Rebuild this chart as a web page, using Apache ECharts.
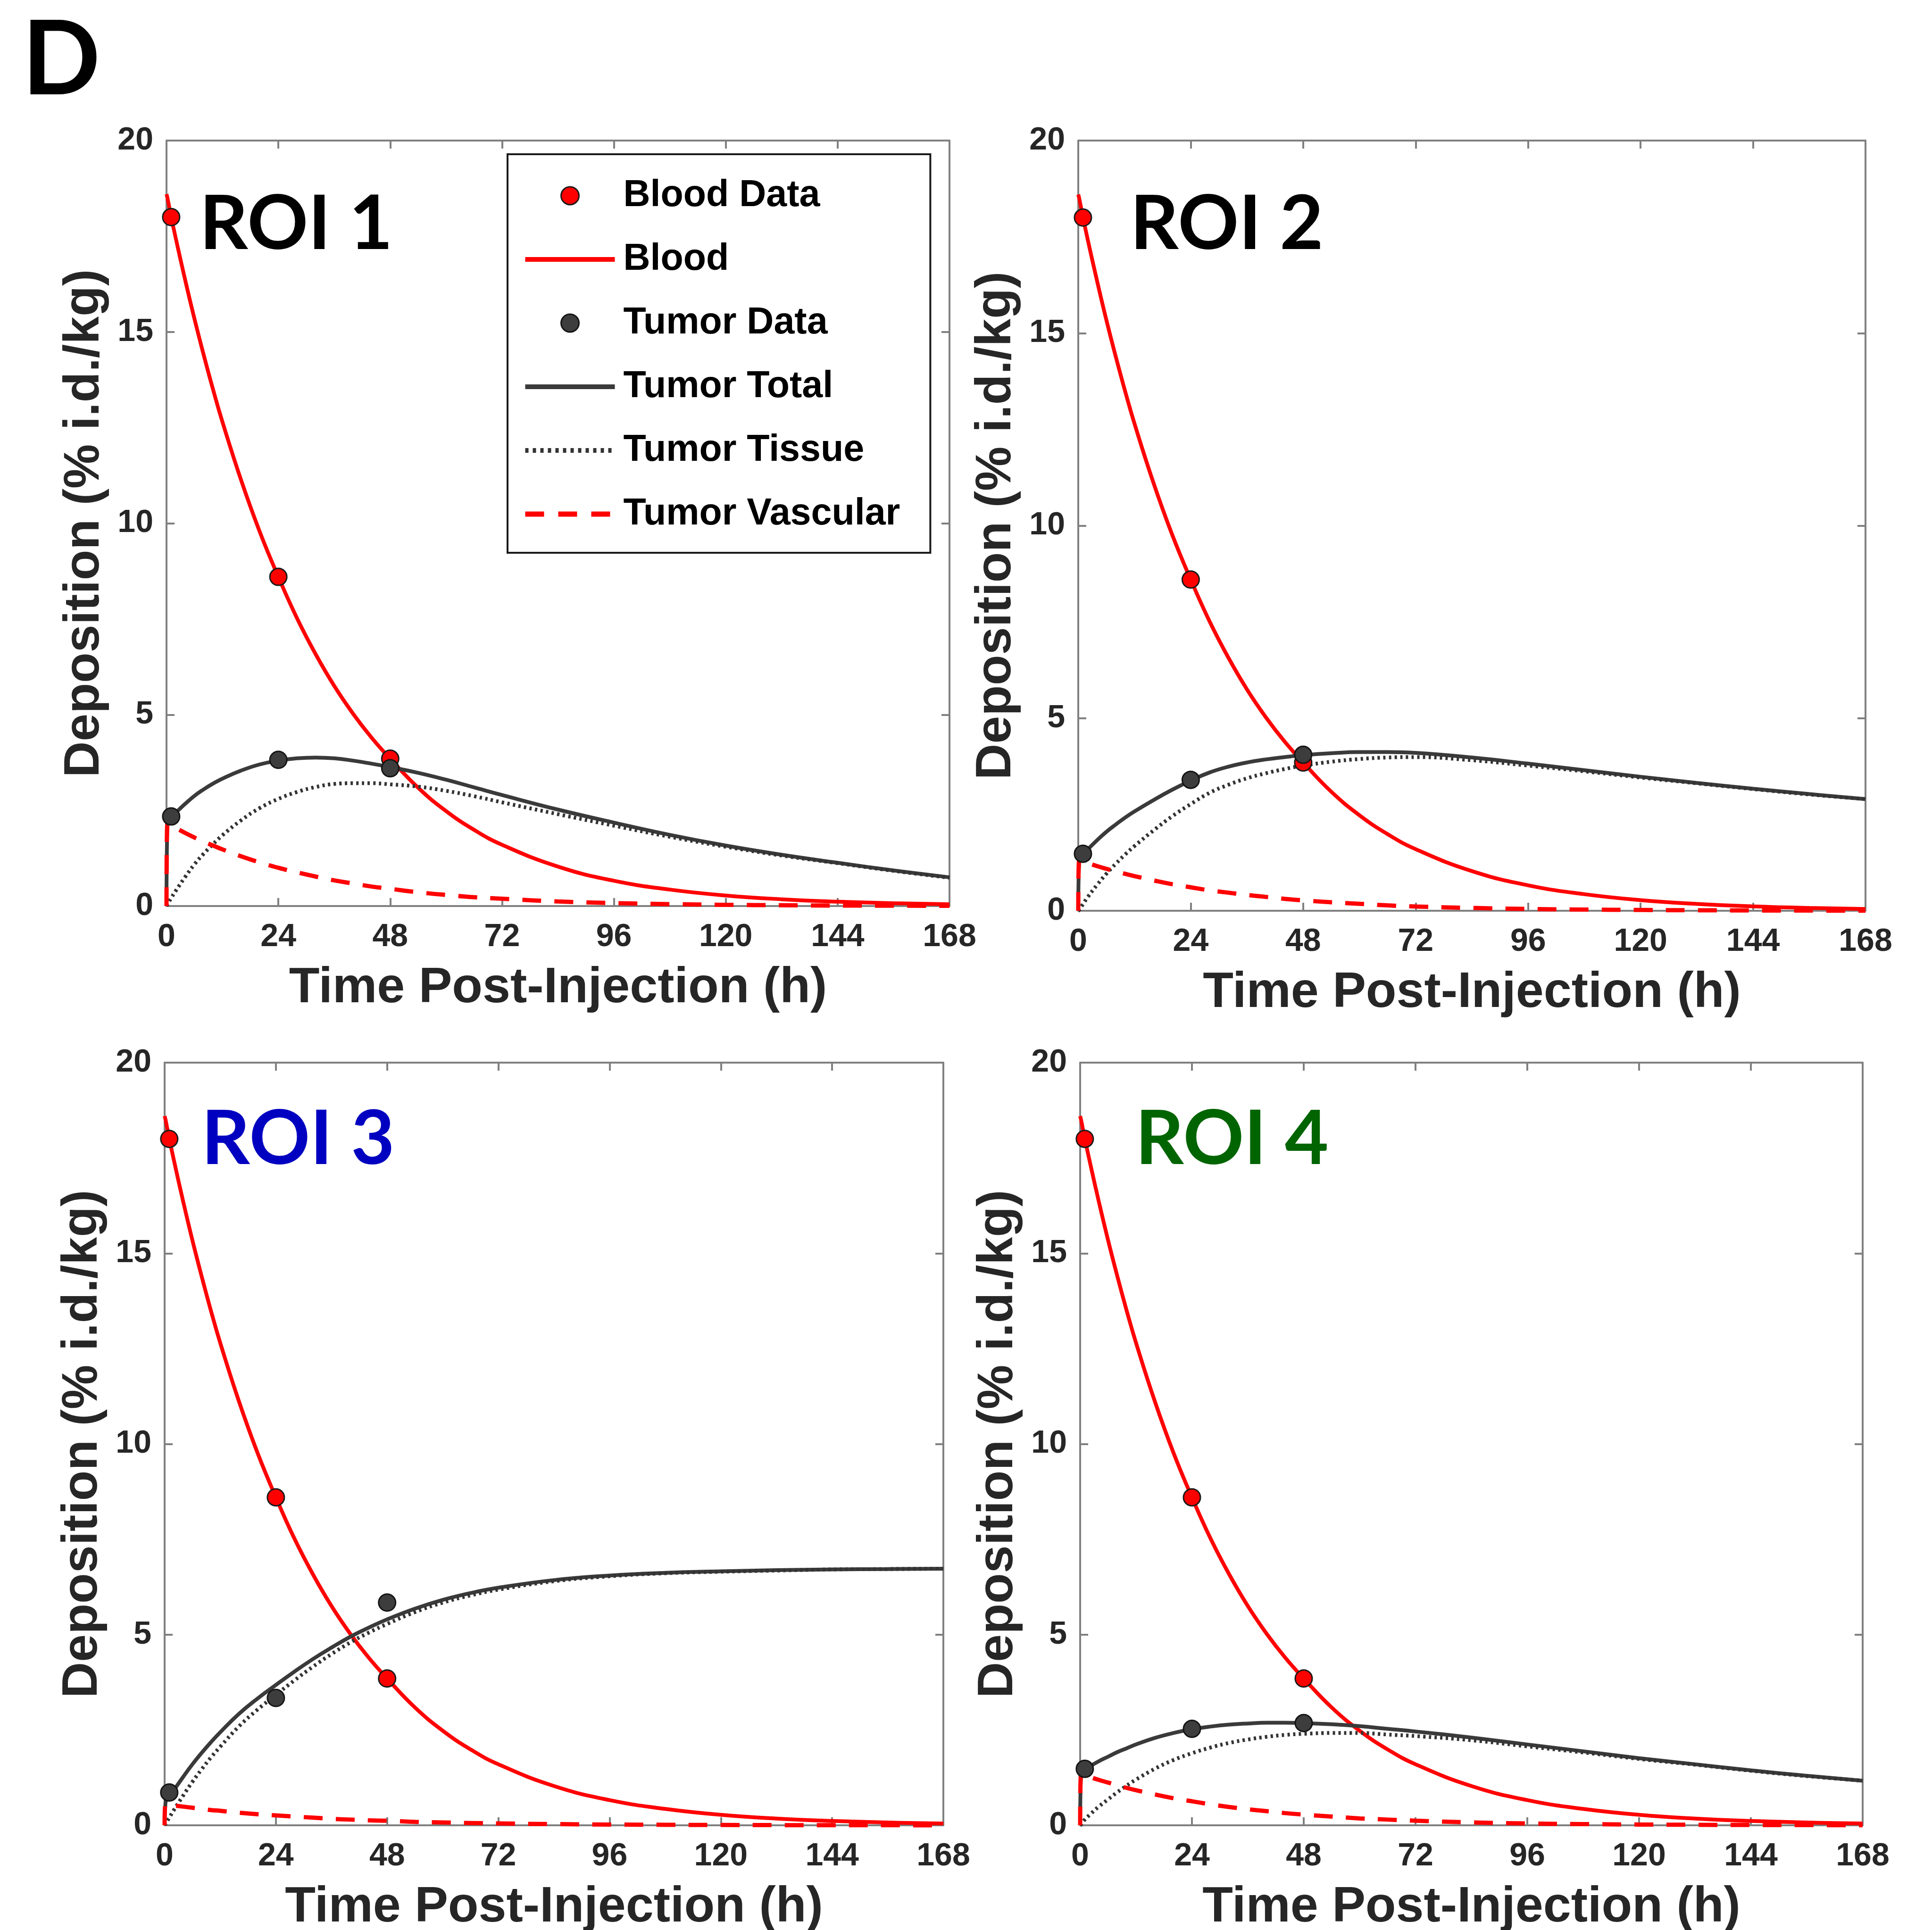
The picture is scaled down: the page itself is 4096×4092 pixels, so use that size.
<!DOCTYPE html>
<html><head><meta charset="utf-8">
<script src="https://cdn.jsdelivr.net/npm/echarts@6/dist/echarts.min.js"></script>
<style>html,body{margin:0;padding:0;background:#fff}#c{width:4096px;height:4092px}</style>
</head><body><div id="c"></div>
<script>
// ---------- data ----------
const xTicks = [0, 24, 48, 72, 96, 120, 144, 168];
const yTicks = [0, 5, 10, 15, 20];

// model time grid (h)
const tModel = [0, 0.2, 1, 2, 4, 6, 8, 10, 12, 16, 20, 24, 28, 32, 36, 40, 44, 48, 54, 60, 66, 72, 84, 96, 108, 120, 132, 144, 156, 168];

// blood fit (same in all ROIs)
const bloodFit = [18.6, 18.5, 18.01, 17.44, 16.36, 15.34, 14.39, 13.49, 12.65, 11.13, 9.78, 8.6, 7.52, 6.58, 5.75, 5.03, 4.4, 3.85, 3.09, 2.48, 1.99, 1.6, 1.03, 0.66, 0.43, 0.275, 0.177, 0.114, 0.073, 0.047];

// measured data times and blood data
const dataT = [1, 24, 48];
const bloodData = [18.0, 8.6, 3.85];

// ROI 1
const roi1Data = [2.34, 3.82, 3.6];
const roi1Total = [0, 2.2, 2.32, 2.44, 2.67, 2.88, 3.05, 3.2, 3.33, 3.54, 3.7, 3.8, 3.86, 3.88, 3.86, 3.8, 3.72, 3.63, 3.48, 3.3, 3.1, 2.9, 2.52, 2.18, 1.86, 1.58, 1.34, 1.13, 0.93, 0.75];
const roi1Tissue = [0, 0.04, 0.21, 0.4, 0.76, 1.09, 1.37, 1.62, 1.85, 2.24, 2.56, 2.8, 2.98, 3.11, 3.19, 3.21, 3.21, 3.18, 3.12, 3.01, 2.87, 2.71, 2.4, 2.1, 1.81, 1.55, 1.32, 1.12, 0.92, 0.74];
const roi1Vasc = [0, 2.16, 2.11, 2.04, 1.91, 1.79, 1.68, 1.58, 1.48, 1.3, 1.14, 1.0, 0.88, 0.77, 0.67, 0.59, 0.51, 0.45, 0.36, 0.29, 0.23, 0.19, 0.12, 0.077, 0.05, 0.032, 0.021, 0.013, 0.009, 0.005];

// ROI 2
const roi2Data = [1.48, 3.4, 4.05];
const roi2Total = [0, 1.33, 1.45, 1.59, 1.83, 2.05, 2.24, 2.42, 2.58, 2.87, 3.14, 3.38, 3.59, 3.74, 3.85, 3.93, 3.99, 4.04, 4.09, 4.12, 4.12, 4.1, 3.98, 3.82, 3.65, 3.48, 3.32, 3.17, 3.03, 2.9];
const roi2Tissue = [0, 0.02, 0.17, 0.35, 0.67, 0.96, 1.22, 1.46, 1.68, 2.08, 2.45, 2.77, 3.06, 3.27, 3.44, 3.57, 3.68, 3.77, 3.87, 3.94, 3.98, 3.99, 3.91, 3.77, 3.62, 3.46, 3.31, 3.16, 3.02, 2.9];
const roi2Vasc = [0, 1.31, 1.28, 1.24, 1.16, 1.09, 1.02, 0.96, 0.9, 0.79, 0.69, 0.61, 0.53, 0.47, 0.41, 0.36, 0.31, 0.27, 0.22, 0.18, 0.14, 0.11, 0.073, 0.047, 0.031, 0.02, 0.013, 0.008, 0.005, 0.003];

// ROI 3
const roi3Data = [0.86, 3.34, 5.84];
const roi3Total = [0, 0.6, 0.74, 0.92, 1.27, 1.6, 1.9, 2.18, 2.44, 2.92, 3.32, 3.68, 4.03, 4.36, 4.66, 4.94, 5.18, 5.4, 5.68, 5.91, 6.09, 6.23, 6.43, 6.55, 6.62, 6.66, 6.69, 6.71, 6.72, 6.73];
const roi3Tissue = [0, 0.04, 0.2, 0.4, 0.78, 1.14, 1.47, 1.78, 2.06, 2.59, 3.03, 3.42, 3.8, 4.16, 4.49, 4.79, 5.05, 5.28, 5.59, 5.84, 6.03, 6.18, 6.4, 6.53, 6.61, 6.65, 6.68, 6.71, 6.72, 6.73];
const roi3Vasc = [0, 0.56, 0.54, 0.52, 0.49, 0.46, 0.43, 0.4, 0.38, 0.33, 0.29, 0.26, 0.23, 0.2, 0.17, 0.15, 0.13, 0.12, 0.09, 0.074, 0.06, 0.048, 0.031, 0.02, 0.013, 0.008, 0.005, 0.003, 0.002, 0.001];

// ROI 4
const roi4Data = [1.48, 2.53, 2.68];
const roi4Total = [0, 1.37, 1.46, 1.54, 1.68, 1.8, 1.92, 2.02, 2.12, 2.29, 2.42, 2.52, 2.59, 2.64, 2.67, 2.69, 2.69, 2.68, 2.65, 2.6, 2.53, 2.46, 2.3, 2.12, 1.94, 1.76, 1.6, 1.44, 1.3, 1.17];
const roi4Tissue = [0, 0.02, 0.15, 0.27, 0.49, 0.68, 0.87, 1.04, 1.2, 1.48, 1.71, 1.89, 2.04, 2.16, 2.25, 2.32, 2.37, 2.4, 2.42, 2.42, 2.38, 2.34, 2.23, 2.07, 1.91, 1.74, 1.59, 1.43, 1.29, 1.17];
const roi4Vasc = [0, 1.35, 1.31, 1.27, 1.19, 1.12, 1.05, 0.98, 0.92, 0.81, 0.71, 0.63, 0.55, 0.48, 0.42, 0.37, 0.32, 0.28, 0.23, 0.18, 0.15, 0.12, 0.075, 0.048, 0.031, 0.02, 0.013, 0.008, 0.005, 0.003];

const roiLabels = ['ROI 1', 'ROI 2', 'ROI 3', 'ROI 4'];
const roiColors = ['#000000', '#000000', '#0000c0', '#006400'];
const seriesNames = ['Blood Data', 'Blood', 'Tumor Data', 'Tumor Total', 'Tumor Tissue', 'Tumor Vascular'];

// ---------- layout ----------
const FONT = "'Liberation Sans', Arial, sans-serif";
const AX = '#808080';
const TXT = '#262626';
const panels = [
  { grid: { left: 353, top: 298, width: 1660, height: 1623 }, total: roi1Total, tissue: roi1Tissue, vasc: roi1Vasc, pts: roi1Data, lab: [423, 476] },
  { grid: { left: 2286, top: 298, width: 1669, height: 1633 }, total: roi2Total, tissue: roi2Tissue, vasc: roi2Vasc, pts: roi2Data, lab: [2396, 476] },
  { grid: { left: 349, top: 2253, width: 1651, height: 1617 }, total: roi3Total, tissue: roi3Tissue, vasc: roi3Vasc, pts: roi3Data, lab: [427, 2416] },
  { grid: { left: 2290, top: 2253, width: 1659, height: 1617 }, total: roi4Total, tissue: roi4Tissue, vasc: roi4Vasc, pts: roi4Data, lab: [2407, 2416] }
];

const pair = (xs, ys) => xs.map((x, k) => [x, ys[k]]);
const xMin = xTicks[0], xMax = xTicks[xTicks.length - 1], xInt = xTicks[1] - xTicks[0];
const yMin = yTicks[0], yMax = yTicks[yTicks.length - 1], yInt = yTicks[1] - yTicks[0];

const grids = [], xAxes = [], yAxes = [], series = [], graphics = [];
const lineAx = { show: true, onZero: false, lineStyle: { color: AX, width: 4 } };
const tickAx = { show: true, inside: true, length: 17, lineStyle: { color: AX, width: 4 } };
const labTxt = { fontFamily: FONT, fontWeight: 'bold', fontSize: 68, color: TXT };
const nameTxt = { fontFamily: FONT, fontWeight: 'bold', fontSize: 106, color: TXT };
const SM = 0.45;

panels.forEach((p, i) => {
  grids.push(Object.assign({ containLabel: false, outerBoundsMode: 'none', show: false }, p.grid));
  xAxes.push({ gridIndex: i, type: 'value', position: 'bottom', min: xMin, max: xMax, interval: xInt,
    name: 'Time Post-Injection (h)', nameLocation: 'middle', nameGap: 122, nameTextStyle: nameTxt, nameMoveOverlap: false,
    axisLine: lineAx, axisTick: tickAx, axisLabel: Object.assign({ margin: 32 }, labTxt), splitLine: { show: false } });
  xAxes.push({ gridIndex: i, type: 'value', position: 'top', min: xMin, max: xMax, interval: xInt,
    axisLine: lineAx, axisTick: tickAx, axisLabel: { show: false }, splitLine: { show: false } });
  yAxes.push({ gridIndex: i, type: 'value', position: 'left', min: yMin, max: yMax, interval: yInt,
    name: 'Deposition (% i.d./kg)', nameLocation: 'middle', nameRotate: 90, nameGap: 120, nameTextStyle: nameTxt, nameMoveOverlap: false,
    axisLine: lineAx, axisTick: tickAx, axisLabel: Object.assign({ margin: 28 }, labTxt), splitLine: { show: false } });
  yAxes.push({ gridIndex: i, type: 'value', position: 'right', min: yMin, max: yMax, interval: yInt,
    axisLine: lineAx, axisTick: tickAx, axisLabel: { show: false }, splitLine: { show: false } });

  const ax = { xAxisIndex: 2 * i, yAxisIndex: 2 * i, clip: false, silent: true, emphasis: { disabled: true }, animation: false };
  series.push(Object.assign({ name: seriesNames[0], type: 'scatter', data: pair(dataT, bloodData), symbol: 'circle', symbolSize: 36,
    itemStyle: { color: '#ff0000', borderColor: '#1a1a1a', borderWidth: 3, opacity: 1 }, z: 4 }, ax));
  series.push(Object.assign({ name: seriesNames[1], type: 'line', data: pair(tModel, bloodFit), symbol: 'none', showSymbol: false, smooth: SM,
    lineStyle: { color: '#ff0000', width: 8 }, itemStyle: { color: '#ff0000' }, z: 2 }, ax));
  series.push(Object.assign({ name: seriesNames[2], type: 'scatter', data: pair(dataT, p.pts), symbol: 'circle', symbolSize: 36,
    itemStyle: { color: '#3d3d3d', borderColor: '#141414', borderWidth: 3, opacity: 1 }, z: 4 }, ax));
  series.push(Object.assign({ name: seriesNames[3], type: 'line', data: pair(tModel, p.total), symbol: 'none', showSymbol: false, smooth: SM,
    lineStyle: { color: '#3a3a3a', width: 8 }, itemStyle: { color: '#3a3a3a' }, z: 3 }, ax));
  series.push(Object.assign({ name: seriesNames[4], type: 'line', data: pair(tModel, p.tissue), symbol: 'none', showSymbol: false, smooth: SM,
    lineStyle: { color: '#333333', width: 8, type: [5, 7] }, itemStyle: { color: '#333333' }, z: 3 }, ax));
  series.push(Object.assign({ name: seriesNames[5], type: 'line', data: pair(tModel, p.vasc), symbol: 'none', showSymbol: false, smooth: SM,
    lineStyle: { color: '#ff0000', width: 9, type: [40, 28] }, itemStyle: { color: '#ff0000' }, z: 3 }, ax));

  graphics.push({ type: 'text', x: p.lab[0], y: p.lab[1], silent: true, z: 10,
    style: { text: roiLabels[i], fontFamily: 'Lato', fontWeight: 'bold', fontSize: 160, fill: roiColors[i], align: 'left', verticalAlign: 'middle' } });
});

graphics.push({ type: 'text', x: 47, y: 130, silent: true, z: 10,
  style: { text: 'D', fontFamily: 'Lato', fontWeight: 'bold', fontSize: 218, fill: '#000', align: 'left', verticalAlign: 'middle' } });

const hideDot = { color: 'rgba(0,0,0,0)', borderWidth: 0, opacity: 0 };
const chart = echarts.init(document.getElementById('c'), null, { renderer: 'canvas', width: 4096, height: 4092 });
chart.setOption({
  animation: false,
  backgroundColor: '#ffffff',
  grid: grids,
  xAxis: xAxes,
  yAxis: yAxes,
  legend: {
    show: true, orient: 'vertical', left: 1076, top: 327,
    padding: [48, 64, 42, 32], itemWidth: 190, itemHeight: 38, itemGap: 55,
    borderColor: '#1a1a1a', borderWidth: 4, backgroundColor: '#ffffff', borderRadius: 0,
    selectedMode: false,
    textStyle: { fontFamily: FONT, fontWeight: 'bold', fontSize: 79, color: '#000', lineHeight: 80, padding: [0, 0, 0, 13] },
    data: [
      { name: 'Blood Data', icon: 'circle', itemStyle: { color: '#ff0000', borderColor: '#1a1a1a', borderWidth: 3 } },
      { name: 'Blood', lineStyle: { color: '#ff0000', width: 10, type: 'solid' }, itemStyle: hideDot },
      { name: 'Tumor Data', icon: 'circle', itemStyle: { color: '#3d3d3d', borderColor: '#141414', borderWidth: 3 } },
      { name: 'Tumor Total', lineStyle: { color: '#3a3a3a', width: 10, type: 'solid' }, itemStyle: hideDot },
      { name: 'Tumor Tissue', lineStyle: { color: '#333333', width: 10, type: [7, 9] }, itemStyle: hideDot },
      { name: 'Tumor Vascular', lineStyle: { color: '#ff0000', width: 11, type: [40, 30] }, itemStyle: hideDot }
    ]
  },
  graphic: graphics,
  series: series
});
</script>
</body></html>
